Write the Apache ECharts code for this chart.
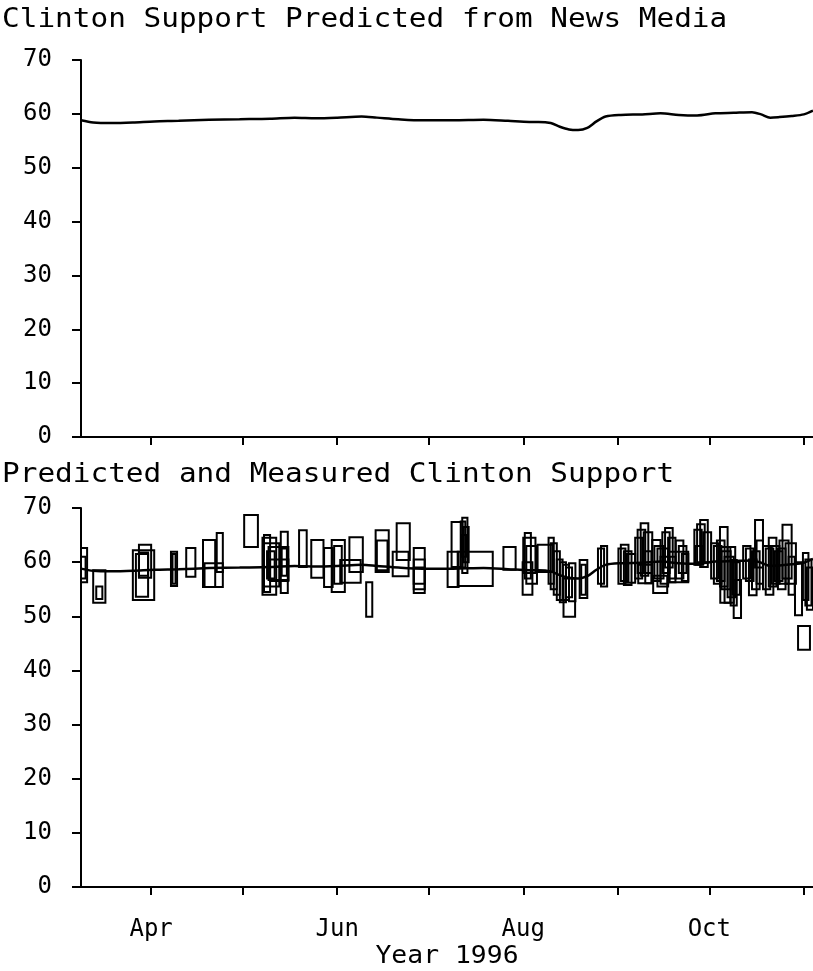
<!DOCTYPE html>
<html>
<head>
<meta charset="utf-8">
<script src="https://cdn.jsdelivr.net/npm/echarts@6/dist/echarts.min.js"></script>
<style>
html,body{margin:0;padding:0;background:#fff;}
#chart{width:813px;height:971px;}
</style>
</head>
<body>
<div id="chart"></div>
<script>
// Day-of-year 1996 (Jan 1 = 0)
const monthTickDays = [91, 121, 152, 182, 213, 244, 274, 305];
const monthLabelDays = [91, 152, 213, 274];
const monthLabels = ['Apr', 'Jun', 'Aug', 'Oct'];

// Predicted support from news media
const predDays = [68, 72, 78, 85, 92, 100, 110, 120, 130, 138, 145, 152, 160, 165, 172, 180, 190, 200, 208, 215, 218, 222, 225, 228, 231, 234, 237, 240, 245, 252, 258, 264, 270, 276, 282, 288, 291, 294, 297, 301, 305, 308];
const predValues = [58.8, 58.4, 58.3, 58.4, 58.6, 58.7, 58.9, 59.0, 59.1, 59.3, 59.2, 59.3, 59.5, 59.3, 59.0, 58.8, 58.8, 58.9, 58.7, 58.5, 58.5, 58.3, 57.6, 57.1, 57.0, 57.4, 58.6, 59.5, 59.8, 59.9, 60.1, 59.8, 59.7, 60.1, 60.2, 60.3, 59.9, 59.3, 59.4, 59.6, 59.9, 60.6];

// Measured polls: [startDay, endDay, low, high]
const polls = [
  [68,70,56.3,62.6],[68,69.5,57,61],
  [72,76,52.5,58.5],[73,75,53.2,55.5],
  [87,91,57.1,63.2],[85,92,53,62.2],[86,90,53.6,61.5],[87,90,57.5,61.8],
  [97.5,99.5,55.6,61.9],[98,99,56,61.5],
  [102.5,105.5,57.3,62.6],
  [108,112,55.4,64.1],[108.5,114.5,55.4,59.8],[112.5,114.5,58.2,65.4],
  [121.5,126,62.8,68.7],
  [127.5,132,54,64.5],[128,133,55.5,63.5],[129,131.5,57,62],[130,136,56.5,60.5],[128,130,54.5,65],
  [129.5,136,56.7,62.8],
  [133.5,135.8,54.3,65.6],[133.8,135.5,57.5,62.5],
  [139.5,142,59.1,65.9],
  [143.5,147.5,57.1,64.1],
  [147.7,150.5,55.4,62.6],
  [150.2,154.5,54.5,64.1],[151,153.5,56,63],
  [156,160.4,58.2,64.6],
  [153,159.7,56.2,60.4],
  [161.5,163.5,49.9,56.3],
  [164.6,168.9,58.2,65.9],[165,168.5,58.5,64],
  [171.5,175.8,60.4,67.2],
  [170.2,175.4,57.4,61.9],
  [177.1,180.7,54.3,62.6],[177.1,180.7,56,60.5],[177.1,180.7,55,59],
  [188.2,191.8,55.4,61.9],
  [189.5,193.1,59.1,67.4],
  [192.5,194,59,67.5],[193,194.7,58,68.2],[193.5,195.1,60,66.5],[192.7,194.3,61,65],
  [191.5,203,55.6,61.9],
  [206.5,210.5,58.6,62.8],
  [213,217,58,64.5],[212.8,216,54,60],[214,217.5,56,63],[213.5,215.5,57,65.4],
  [217.7,222.6,58.2,63.2],
  [221.3,223,56,64.5],[222,224,55,63.5],[223,225,54,62],[224,225.9,53,60.5],
  [225,227,52.6,60],[226,228,53,59.5],[227,229,53.5,59],[228,230.1,52.8,59.8],
  [226.2,230,49.9,57],
  [231.5,234,53.4,60.4],[232,233.5,54,59.5],
  [237.5,239.5,56,62.5],[238.5,240.5,55.5,63],
  [244.2,246.5,56,62.5],[245,247.5,56.5,63.2],[246,248.5,55.8,62],[247,249.7,56.2,61.5],
  [249.7,252,57,64.5],[250.5,253,58,66],[251.5,254,57.5,67.2],[252.5,255.3,58,65.5],[253,255,56.1,62],
  [250.7,255.3,56.1,59.5],
  [255.3,258,56.5,64.1],[256,259,57,63],[257,260.5,55.5,62.5],[258,260.5,56,61],
  [255.6,260.2,54.3,57.5],
  [258.6,261,58,65.5],[259.5,262,59,66.3],[260.5,262.9,57,64.5],[261,262.9,56.3,61],
  [263,265.5,57,64],[264,266.5,58,63],[265,267.1,56.5,61.5],[260.5,267.1,56.3,61.9],
  [269.1,271.5,59.5,66],[270,272.5,60,67],[271,273.5,59.1,67.8],[272,274.6,60,65.5],[269.5,272,59.5,63],
  [274.6,277,57,63.5],[275.5,278,56,63],[276.5,279,56.5,64],[277.5,280,55.5,66.5],[278,281,55,62],
  [279,282,52.5,61],[280,282.5,53.5,62.8],[281,283,52,60.4],[282,284.4,49.7,56.7],[281.5,284,54,60],
  [277.6,280.9,52.5,62.8],
  [285.1,287.5,57,63],[286,288.5,56.5,62.5],[287,289.5,53.9,60.5],[288,290.5,55,62],[289,291.6,59,67.8],[289.5,291.6,56,64],
  [291.6,294,55,63],[292.5,295,54,62.5],[293.5,296,55.5,64.5],[294.5,297,56,63],[295.5,298,56.5,62],
  [296.5,299,55,62.5],[297,300,56,64],[298,301,57,66.9],[299,302.4,56,63.5],[300,302,54,61],
  [302.1,304.4,50.2,60],
  [303.1,307,43.8,48.2],
  [304.7,306.5,53,61.7],[305.5,307.5,52,60.5],[306,308,51.2,59]
];

const FONT = 'DejaVu Sans Mono';
const predLine = predDays.map((d, i) => [d, predValues[i]]);

function xAxisCfg(gridIndex, showLabels) {
  return {
    type: 'value', gridIndex: gridIndex, min: 68, max: 308,
    axisLine: {show: true, onZero: false, lineStyle: {color: '#000', width: 2}},
    axisTick: {show: true, customValues: monthTickDays, length: 8, lineStyle: {color: '#000', width: 2}},
    axisLabel: {
      show: showLabels, customValues: monthLabelDays, margin: 31,
      fontFamily: FONT, fontSize: 24, color: '#000',
      formatter: function (v) { const i = monthLabelDays.indexOf(v); return i >= 0 ? monthLabels[i] : ''; }
    },
    splitLine: {show: false}
  };
}
function yAxisCfg(gridIndex) {
  return {
    type: 'value', gridIndex: gridIndex, min: 0, max: 70, interval: 10,
    axisLine: {show: true, lineStyle: {color: '#000', width: 2}},
    axisTick: {show: true, length: 9, lineStyle: {color: '#000', width: 2}},
    axisLabel: {margin: 29, fontFamily: FONT, fontSize: 24, color: '#000'},
    splitLine: {show: false}
  };
}

const chart = echarts.init(document.getElementById('chart'));
chart.setOption({
  animation: false,
  backgroundColor: '#fff',
  grid: [
    {left: 81, top: 60, width: 732, height: 377},
    {left: 81, top: 508, width: 732, height: 379}
  ],
  xAxis: [xAxisCfg(0, false), xAxisCfg(1, true)],
  yAxis: [yAxisCfg(0), yAxisCfg(1)],
  graphic: [
    {type: 'text', x: 2, y: 20, scaleX: 1.13, style: {text: 'Clinton Support Predicted from News Media', fontFamily: FONT, fontSize: 26, fill: '#000', align: 'left', verticalAlign: 'middle'}},
    {type: 'text', x: 2, y: 475, scaleX: 1.13, style: {text: 'Predicted and Measured Clinton Support', fontFamily: FONT, fontSize: 26, fill: '#000', align: 'left', verticalAlign: 'middle'}},
    {type: 'text', x: 447, y: 957, scaleX: 1.1, style: {text: 'Year 1996', fontFamily: FONT, fontSize: 24, fill: '#000', align: 'center', verticalAlign: 'middle'}}
  ],
  series: [
    {type: 'line', xAxisIndex: 0, yAxisIndex: 0, data: predLine, smooth: 0.3, showSymbol: false, lineStyle: {color: '#000', width: 2.5}},
    {type: 'line', xAxisIndex: 1, yAxisIndex: 1, data: predLine, smooth: 0.3, showSymbol: false, lineStyle: {color: '#000', width: 2.5}},
    {
      type: 'custom', xAxisIndex: 1, yAxisIndex: 1, data: polls, clip: true, silent: true,
      encode: {x: [0, 1], y: [2, 3]},
      renderItem: function (params, api) {
        const p1 = api.coord([api.value(0), api.value(3)]);
        const p2 = api.coord([api.value(1), api.value(2)]);
        return {
          type: 'rect',
          shape: {x: p1[0], y: p1[1], width: Math.max(p2[0] - p1[0], 1), height: p2[1] - p1[1]},
          style: {fill: 'none', stroke: '#000', lineWidth: 2}
        };
      }
    }
  ]
});
</script>
</body>
</html>
